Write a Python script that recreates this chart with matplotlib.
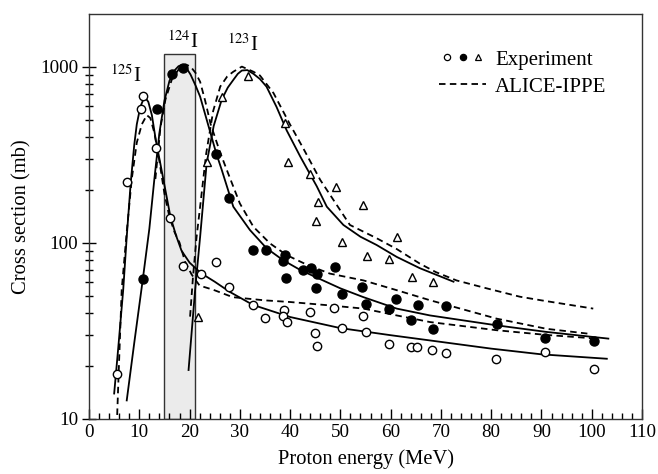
import matplotlib
matplotlib.use('Agg')
import matplotlib.pyplot as plt
import numpy as np
from matplotlib.lines import Line2D
from matplotlib.patches import Rectangle
from matplotlib.legend_handler import HandlerTuple
from matplotlib.ticker import FixedLocator, NullFormatter, FixedFormatter

plt.rcParams['font.family'] = ['Liberation Serif', 'DejaVu Serif']
plt.rcParams['mathtext.fontset'] = 'stix'

# experimental points, 125I (open circles)
e125_x = [5.5, 7.5, 10.3, 10.8, 13.3, 16.2, 18.6, 22.3, 25.3, 27.9, 32.6, 35.1, 38.8, 38.6, 39.3,
          44.0, 45.0, 45.3, 48.7, 50.3, 54.4, 55.1, 59.7, 64.1, 65.3, 68.2, 71.0, 81.0, 90.8, 100.4]
e125_y = [17.9, 220, 573, 684, 344, 138, 73.5, 66.7, 78, 56, 44.3, 37.3, 41.3, 38.3, 35.3,
          40.6, 30.6, 25.8, 42.6, 32.7, 38.3, 31.2, 26.7, 25.6, 25.5, 24.5, 23.7, 21.8, 23.9, 19.1]

# experimental points, 124I (filled circles)
e124_x = [10.7, 13.5, 16.5, 18.7, 25.3, 27.8, 32.7, 35.3, 38.5, 39.0, 39.2, 42.6, 44.1, 45.3, 45.1,
          48.9, 50.3, 54.3, 55.1, 59.7, 61.1, 64.1, 65.4, 68.4, 71.1, 81.1, 90.8, 100.5]
e124_y = [62.4, 573, 912, 980, 318, 180, 90.6, 90.6, 78.4, 84.7, 63, 70.3, 72, 66, 55.5,
          72.7, 51.3, 56, 44.7, 42.2, 48, 36.5, 44.3, 32.4, 43.9, 34.4, 28.8, 27.8]

# experimental points, 123I (triangles)
e123_x = [21.6, 23.5, 26.4, 31.6, 39.0, 39.6, 44.0, 45.5, 45.1, 49.1, 50.4, 54.4, 55.2, 59.7,
          61.2, 64.2, 68.4]
e123_y = [37.9, 288, 676, 885, 481, 286, 245, 170, 133, 206, 101, 164, 83.8, 81,
          107, 63.8, 59.8]

# fitted curves (solid)
fit125_x = [5.0, 5.8, 6.8, 7.5, 8.3, 9.0, 9.5, 10.2, 10.8, 11.3, 11.8, 12.5, 13.3, 14.2, 15.1,
            16.2, 17.3, 18.4, 20.0, 22.3, 25.0, 28.0, 32.6, 40.0, 50.0, 60.0, 70.0, 80.0, 90.0, 103.0]
fit125_y = [13.9, 25, 54, 108, 220, 360, 470, 590, 650, 660, 630, 530, 380, 280, 205,
            140, 110, 90, 77, 67, 60, 52.5, 44.3, 37.8, 32.7, 29.8, 27.3, 25.0, 23.2, 21.9]

fit124_x = [7.5, 9.0, 10.7, 12.0, 13.0, 14.0, 15.0, 16.0, 17.0, 17.8, 18.4, 19.3, 20.2, 21.2, 22.1,
            23.4, 25.3, 26.4, 28.7, 32.0, 35.3, 38.6, 42.0, 46.0, 50.0, 54.6, 61.2, 67.8, 81.1,
            91.0, 103.3]
fit124_y = [12.7, 27, 62, 120, 230, 420, 640, 830, 950, 1005, 1020, 990, 900, 780, 675,
            500, 322, 259, 160, 118, 93, 79.5, 70, 62, 55, 49, 42.2, 38.6, 33.9,
            31.1, 28.5]

fit123_x = [19.8, 21.1, 22.1, 23.4, 24.8, 26.4, 27.6, 28.7, 29.6, 30.4, 31.5, 32.7, 34.0, 35.3,
            37.3, 39.3, 42.0, 45.3, 47.3, 50.6, 54.0, 57.2, 61.2, 65.8, 72.5]
fit123_y = [18.9, 53.7, 108, 283, 460, 650, 760, 840, 910, 950, 955, 910, 850, 770,
            590, 435, 309, 209, 160, 126, 108, 97, 83, 71.6, 60]

# ALICE-IPPE (dashed)
alice125_x = [5.6, 6.0, 6.5, 7.5, 8.5, 9.5, 10.5, 11.5, 12.2, 13.0, 14.0, 15.0, 16.0, 17.0,
              18.0, 19.1, 20.4, 22.0, 24.7, 28.6, 35.0, 40.0, 47.9, 54.6, 61.2, 67.8, 81.1,
              91.0, 100.3]
alice125_y = [10.5, 22, 54, 115, 230, 370, 470, 530, 510, 420, 290, 190, 140, 115,
              100, 78, 66, 57, 54, 49, 47, 46, 44, 42.2, 38.6, 35.4, 31.8,
              29.9, 28.6]

alice124_x = [13.2, 14.2, 15.2, 16.5, 18.0, 19.2, 20.2, 21.2, 22.1, 23.1, 24.2, 26.0, 27.4,
              30.0, 32.7, 36.0, 39.3, 43.3, 47.9, 54.6, 61.2, 67.8, 81.1, 91.0, 99.3]
alice124_y = [230, 450, 650, 850, 980, 1030, 1000, 920, 820, 640, 470, 330, 259,
              167, 123, 99, 85, 75, 66.7, 61, 53.7, 47.1, 37, 32.4, 30.4]

alice123_x = [20.1, 20.7, 21.4, 22.1, 23.3, 24.7, 26.1, 27.5, 28.7, 30.4, 32.7, 34.0, 36.7,
              40.0, 42.6, 46.0, 51.9, 57.2, 61.2, 65.8, 69.0, 73.1, 79.1, 85.7, 90.0, 100.3]
alice123_y = [38, 65, 108, 160, 320, 560, 770, 880, 935, 1000, 935, 890, 707,
              468, 344, 227, 126, 106, 92, 76, 68, 61, 55, 49.3, 47, 42.2]

# shaded energy window for 124I
win_lo, win_hi, win_top = 15.0, 21.1, 1180

fig = plt.figure(figsize=(6.58, 4.74), dpi=100)
ax = fig.add_axes([0.1353, 0.1167, 0.8404, 0.8538])
ax.set_yscale('log')
ax.set_xlim(0, 110)
ax.set_ylim(10, 1990)

ax.add_patch(Rectangle((win_lo, 10), win_hi - win_lo, win_top - 10,
                       facecolor='#ebebeb', edgecolor='#333333', lw=1.0, zorder=1))

lw = 1.3
dash = (3.6, 2.4)
for xs, ys in [(fit125_x, fit125_y), (fit124_x, fit124_y), (fit123_x, fit123_y)]:
    ax.plot(xs, ys, color='black', lw=lw, zorder=3)
for xs, ys in [(alice125_x, alice125_y), (alice124_x, alice124_y), (alice123_x, alice123_y)]:
    ax.plot(xs, ys, color='black', lw=lw, dashes=dash, zorder=3)

ms = 6
ax.plot(e125_x, e125_y, 'o', mfc='white', mec='black', mew=1.0, ms=ms, zorder=4)
ax.plot(e124_x, e124_y, 'o', mfc='black', mec='black', mew=1.0, ms=ms + 0.5, zorder=4)
ax.plot(e123_x, e123_y, '^', mfc='white', mec='black', mew=1.0, ms=ms, zorder=4)

ax.text(7.2, 822, r'$^{125}$I', fontsize=15, ha='center', va='baseline')
ax.text(18.6, 1282, r'$^{124}$I', fontsize=15, ha='center', va='baseline')
ax.text(30.6, 1233, r'$^{123}$I', fontsize=15, ha='center', va='baseline')

# legend
h_o = Line2D([], [], ls='none', marker='o', mfc='white', mec='black', ms=4.5, mew=0.9)
h_f = Line2D([], [], ls='none', marker='o', mfc='black', mec='black', ms=4.5, mew=0.9)
h_t = Line2D([], [], ls='none', marker='^', mfc='white', mec='black', ms=4.5, mew=0.9)
h_d = Line2D([], [], color='black', lw=lw, dashes=dash)
ax.legend([(h_o, h_f, h_t), h_d], ['Experiment', 'ALICE-IPPE'],
          handler_map={tuple: HandlerTuple(ndivide=None, pad=0.0)},
          handlelength=2.26, handletextpad=0.43, frameon=False, fontsize=15,
          loc='upper right', bbox_to_anchor=(0.97, 0.957), labelspacing=0.35)

# ticks
ax.xaxis.set_major_locator(FixedLocator(np.arange(0, 111, 10)))
ax.xaxis.set_minor_locator(FixedLocator(np.arange(0, 111, 2)))
ax.yaxis.set_major_locator(FixedLocator([10, 100, 1000]))
ax.yaxis.set_major_formatter(FixedFormatter(['10', '100', '1000']))
minors = [m * d for d in (10, 100, 1000) for m in range(2, 10)]
ax.yaxis.set_minor_locator(FixedLocator(minors))
ax.yaxis.set_minor_formatter(NullFormatter())
ax.tick_params(axis='x', which='major', direction='in', length=7, width=1, labelsize=13.7, pad=4)
ax.tick_params(axis='x', which='minor', direction='in', length=4, width=1)
ax.tick_params(axis='y', which='major', direction='inout', length=10, width=1, labelsize=13.7, pad=3)
ax.tick_params(axis='y', which='minor', direction='inout', length=6, width=1)
for s in ax.spines.values():
    s.set_color('#333333')
    s.set_linewidth(1.0)

ax.set_xlabel('Proton energy (MeV)', fontsize=14.8, labelpad=6)
ax.set_ylabel('Cross section (mb)', fontsize=14.8, labelpad=6)

fig.savefig('out.png', dpi=100)
